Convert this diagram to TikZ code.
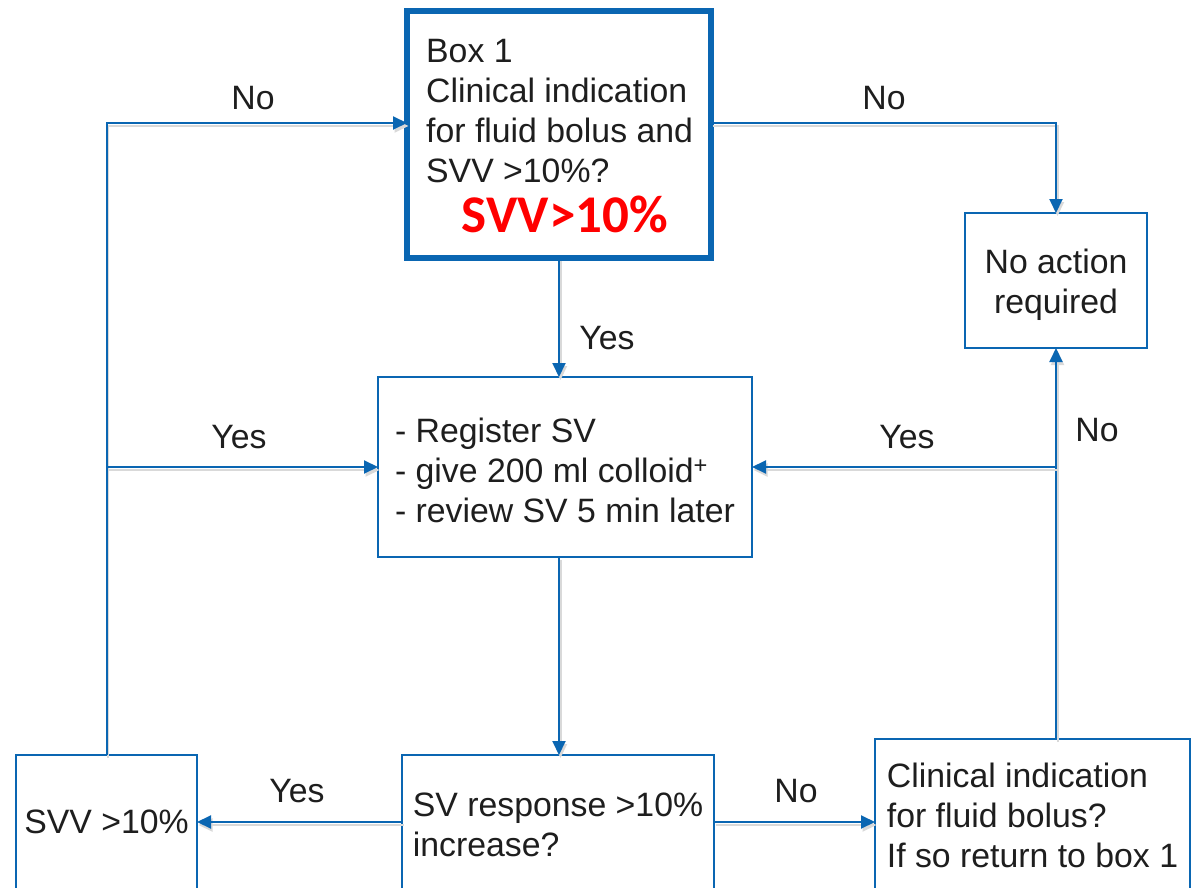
\documentclass[tikz,border=0pt]{standalone}
\usepackage{fontspec}
\setmainfont{Liberation Sans}
\newfontfamily\redfont{Carlito}
\usetikzlibrary{arrows.meta,calc}
\definecolor{myblue}{RGB}{10,102,178}
\definecolor{myred}{RGB}{255,0,0}
\definecolor{mytext}{RGB}{30,30,30}
\begin{document}
\begin{tikzpicture}[x=1pt,y=-1pt,
  every node/.style={text=mytext,font=\fontsize{33.8}{40}\selectfont},
  box/.style={draw=myblue,line width=2pt,rectangle,inner sep=0pt,outer sep=0pt,anchor=north west,fill=white},
  conn/.style={draw=myblue,line width=2pt,-{Triangle[length=14pt,width=13pt]},
     preaction={draw=black!15,line width=2pt,-{Triangle[length=14pt,width=13pt]},transform canvas={xshift=1.5pt,yshift=-3pt}}},
  lbl/.style={inner sep=0pt,anchor=center}]
\useasboundingbox (0,0) rectangle (1192,888);
\fill[white] (0,0) rectangle (1192,888);

% boxes
\node[box,line width=5.5pt,minimum width=304pt,minimum height=247pt] (box1) at (407,11) {};
\node[inner sep=0pt,anchor=north west,align=left] (b1t) at (426,39) {Box 1\\Clinical indication\\for fluid bolus and\\SVV >10\%?};
\node[inner sep=0pt,anchor=base,text=myred,font=\redfont\bfseries\fontsize{53}{53}\selectfont] (b1r) at (565,232) {SVV>10\%};

\node[box,minimum width=374pt,minimum height=180pt,align=left] (reg) at (378,377) {\rule{0pt}{31pt}- Register SV\\- give 200 ml colloid\textsuperscript{+}\\- review SV 5 min later};
\node[box,minimum width=182pt,minimum height=135pt,align=center] (noact) at (965,213) {\rule{0pt}{33pt}No action\\required};
\node[box,minimum width=181pt,minimum height=134pt] (svv) at (16,755) {SVV >10\%};
\node[box,minimum width=312pt,minimum height=140pt,align=left] (svr) at (402,755) {SV response >10\%\\increase?};
\node[box,minimum width=315pt,minimum height=152pt,align=left] (clin) at (875,739) {Clinical indication\\for fluid bolus?\\If so return to box 1};

\coordinate (row) at (0,123);
\coordinate (jr) at (noact.south |- reg.east);

% connectors
\draw[conn] (box1.south) -- (box1.south |- reg.north);
\draw[conn] (box1.south |- reg.south) -- (box1.south |- svr.north);
\draw[conn] (svr.west |- svv.east) -- (svv.east);
\draw[conn] (svr.east |- svv.east) -- (clin.west |- svv.east);
\draw[conn] (noact.south |- clin.north) -- (noact.south);
\draw[conn] (jr) -- (reg.east);
\draw[conn] (svv.north) |- (box1.west |- row);
\draw[conn] (svv.north |- reg.west) -- (reg.west);
\draw[conn] (box1.east |- row) -| (noact.north);

% labels
\node[lbl] (l1) at (253,98) {No};
\node[lbl] (l2) at (884,98) {No};
\node[lbl] (l3) at (607,338) {Yes};
\node[lbl] (l4) at (239,437) {Yes};
\node[lbl] (l5) at (907,437) {Yes};
\node[lbl] (l6) at (1097,430) {No};
\node[lbl] (l7) at (297,791) {Yes};
\node[lbl] (l8) at (796,791) {No};
\end{tikzpicture}
\end{document}
